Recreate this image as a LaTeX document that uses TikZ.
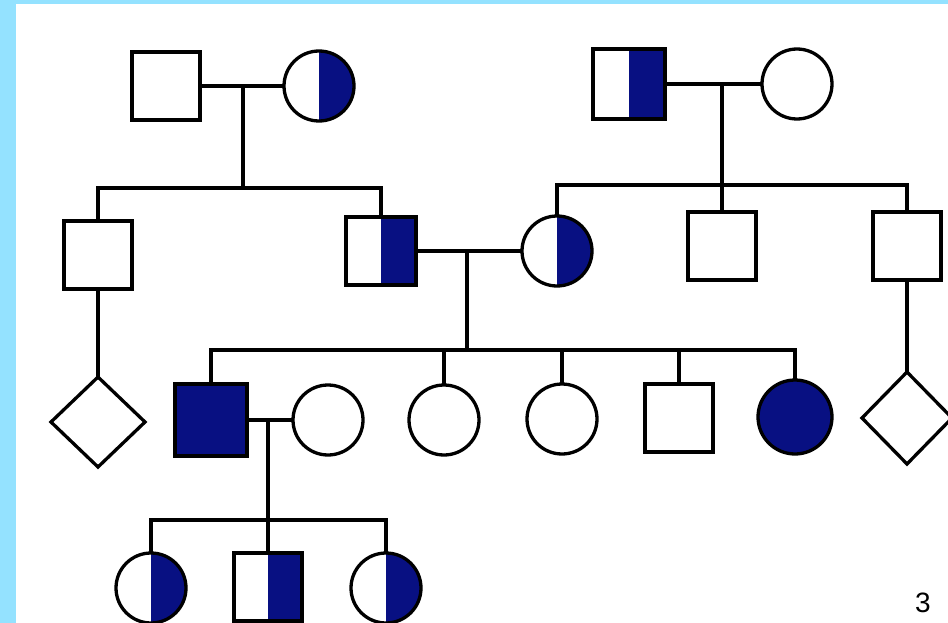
\documentclass[tikz,border=0pt]{standalone}
\usepackage{fontspec}
\setmainfont{Liberation Sans}
\usetikzlibrary{shapes.geometric}
\definecolor{framecyan}{RGB}{148,226,255}
\definecolor{bluefill}{RGB}{8,16,130}
\begin{document}
\begin{tikzpicture}[x=1pt,y=-1pt,
  every node/.style={inner sep=0pt, outer sep=0pt},
  person/.style={draw=black, line width=3.3pt, fill=white},
  male/.style={person, rectangle, minimum width=68pt, minimum height=68pt},
  female/.style={person, circle, minimum size=70pt},
  unknown/.style={person, diamond, minimum width=94pt, minimum height=90pt},
  carrier/.style={path picture={\fill[bluefill] (path picture bounding box.north) rectangle (path picture bounding box.south east);}},
  affected/.style={fill=bluefill},
  link/.style={draw=black, line width=3.3pt}]
  % page frame
  \useasboundingbox (0,0) rectangle (948,623);
  \fill[framecyan] (0,0) rectangle (948,623);
  \fill[white] (16,4) rectangle (948,623);

  % generation I
  \node[male] (I1) at (166,86) {};
  \node[female, carrier] (I2) at (319,86) {};
  \node[male, carrier, minimum width=72pt, minimum height=70pt] (I3) at (629,84) {};
  \node[female] (I4) at (797,84) {};

  % generation II
  \node[male] (II1) at (98,255) {};
  \node[male, carrier, minimum width=70pt, minimum height=68pt] (II2) at (381,251) {};
  \node[female, carrier] (II3) at (557,251) {};
  \node[male] (II4) at (722,246) {};
  \node[male] (II5) at (907,246) {};

  % generation III
  \node[unknown] (III1) at (98,422) {};
  \node[male, affected, minimum width=72pt, minimum height=72pt] (III2) at (211,420) {};
  \node[female] (III3) at (328,420) {};
  \node[female] (III4) at (444,420) {};
  \node[female] (III5) at (562,419) {};
  \node[male] (III6) at (679,418) {};
  \node[female, affected, minimum size=74pt] (III7) at (795,417) {};
  \node[unknown, minimum width=90pt, minimum height=92pt] (III8) at (907,418) {};

  % generation IV
  \node[female, carrier] (IV1) at (151,588) {};
  \node[male, carrier] (IV2) at (268,587) {};
  \node[female, carrier] (IV3) at (386,588) {};

  % couples and their descent lines
  \coordinate (m1) at (243,86);  \coordinate (b1) at (243,188);
  \coordinate (m2) at (722,84);  \coordinate (b2) at (722,185);
  \coordinate (m3) at (467,251); \coordinate (b3) at (467,350);
  \coordinate (m4) at (268,420); \coordinate (b4) at (268,520);

  \draw[link] (I1.east) -- (I2.west);
  \draw[link] (m1) -- (b1);
  \draw[link] (II1.north) |- (b1) -| (II2.north);

  \draw[link] (I3.east) -- (I4.west);
  \draw[link] (m2) -- (II4.north);
  \draw[link] (II3.north) |- (b2) -| (II5.north);

  \draw[link] (II2.east) -- (II3.west);
  \draw[link] (m3) -- (b3);
  \draw[link] (III2.north) |- (b3) -| (III7.north);
  \draw[link] (III4.north) -- (III4.north |- b3);
  \draw[link] (III5.north) -- (III5.north |- b3);
  \draw[link] (III6.north) -- (III6.north |- b3);

  \draw[link] (II1.south) -- (III1.north);
  \draw[link] (II5.south) -- (III8.north);

  \draw[link] (III2.east) -- (III3.west);
  \draw[link] (m4) -- (b4);
  \draw[link] (IV1.north) |- (b4) -| (IV3.north);
  \draw[link] (IV2.north) -- (b4);

  % page number
  \node (pagenum) at (923,603) {\fontsize{28}{32}\selectfont 3};
\end{tikzpicture}
\end{document}
